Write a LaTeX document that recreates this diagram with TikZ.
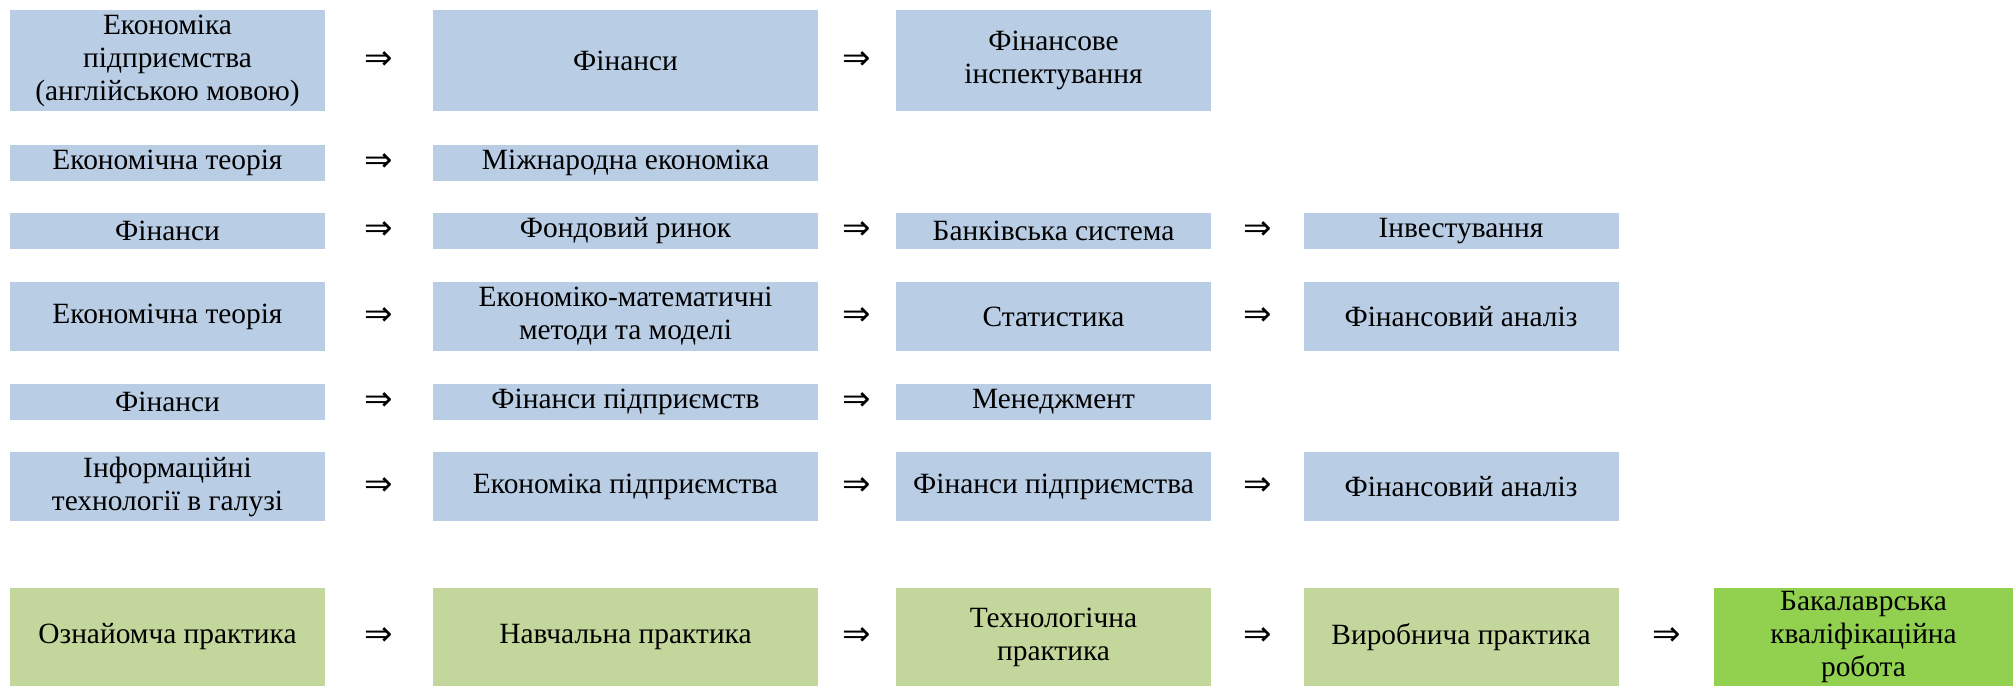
\documentclass[tikz,border=0pt]{standalone}
\usepackage{fontspec}
\setmainfont{Liberation Serif}
\newfontfamily\arrowfont{DejaVu Sans}
\usetikzlibrary{calc}
\begin{document}
\begin{tikzpicture}[x=0.5pt,y=-0.5pt]
  % Styles
  \tikzset{
    course/.style={fill=courseclr, inner sep=0pt, align=center,
      font=\rmfamily\fontsize{14.7}{16.5}\selectfont},
    practice/.style={course, fill=practclr},
    thesis/.style={course, fill=thesisclr},
    wideA/.style={minimum width=157.5pt},
    wideB/.style={minimum width=192.5pt},
    wideE/.style={minimum width=149.5pt},
    tall/.style={minimum height=50.5pt},
    thin/.style={minimum height=18pt},
    mid/.style={minimum height=34.5pt},
    last/.style={minimum height=49pt},
    implies/.style={inner sep=0pt, font=\arrowfont\fontsize{17}{18}\selectfont}
  }

  % Colors
  \definecolor{courseclr}{HTML}{B9CDE5}
  \definecolor{practclr}{HTML}{C3D69B}
  \definecolor{thesisclr}{HTML}{92D050}

  \useasboundingbox (0,0) rectangle (2013,686);

  % Row 1
  \node[course,wideA,tall] (r1c1) at (167.5,60.5) {Економіка\\підприємства\\(англійською мовою)};
  \node[course,wideB,tall] (r1c2) at (625.5,60.5) {Фінанси};
  \node[course,wideA,tall] (r1c3) at (1053.5,60.5) {Фінансове\\інспектування};

  % Row 2
  \node[course,wideA,thin] (r2c1) at (167.5,162.5) {Економічна теорія};
  \node[course,wideB,thin] (r2c2) at (625.5,162.5) {Міжнародна економіка};

  % Row 3
  \node[course,wideA,thin] (r3c1) at (167.5,231) {Фінанси};
  \node[course,wideB,thin] (r3c2) at (625.5,231) {Фондовий ринок};
  \node[course,wideA,thin] (r3c3) at (1053.5,231) {Банківська система};
  \node[course,wideA,thin] (r3c4) at (1461,231) {Інвестування};

  % Row 4
  \node[course,wideA,mid] (r4c1) at (167.5,316.5) {Економічна теорія};
  \node[course,wideB,mid] (r4c2) at (625.5,316.5) {Економіко-математичні\\методи та моделі};
  \node[course,wideA,mid] (r4c3) at (1053.5,316.5) {Статистика};
  \node[course,wideA,mid] (r4c4) at (1461,316.5) {Фінансовий аналіз};

  % Row 5
  \node[course,wideA,thin] (r5c1) at (167.5,401.5) {Фінанси};
  \node[course,wideB,thin] (r5c2) at (625.5,401.5) {Фінанси підприємств};
  \node[course,wideA,thin] (r5c3) at (1053.5,401.5) {Менеджмент};

  % Row 6
  \node[course,wideA,mid] (r6c1) at (167.5,486.5) {Інформаційні\\технології в галузі};
  \node[course,wideB,mid] (r6c2) at (625.5,486.5) {Економіка підприємства};
  \node[course,wideA,mid] (r6c3) at (1053.5,486.5) {Фінанси підприємства};
  \node[course,wideA,mid] (r6c4) at (1461,486.5) {Фінансовий аналіз};

  % Practices
  \node[practice,wideA,last] (r7c1) at (167.5,637) {Ознайомча практика};
  \node[practice,wideB,last] (r7c2) at (625.5,637) {Навчальна практика};
  \node[practice,wideA,last] (r7c3) at (1053.5,637) {Технологічна\\практика};
  \node[practice,wideA,last] (r7c4) at (1461,637) {Виробнича практика};
  \node[thesis,wideE,last] (r7c5) at (1863.5,637) {Бакалаврська\\кваліфікаційна\\робота};

  % Arrows between boxes
  \foreach \a/\b in {r1c1/r1c2,r1c2/r1c3,r2c1/r2c2,r3c1/r3c2,r3c2/r3c3,r3c3/r3c4,
                     r4c1/r4c2,r4c2/r4c3,r4c3/r4c4,r5c1/r5c2,r5c2/r5c3,
                     r6c1/r6c2,r6c2/r6c3,r6c3/r6c4,
                     r7c1/r7c2,r7c2/r7c3,r7c3/r7c4,r7c4/r7c5}
    \node[implies] (\a-\b) at ($(\a.east)!0.5!(\b.west)$) {⇒};
\end{tikzpicture}
\end{document}
